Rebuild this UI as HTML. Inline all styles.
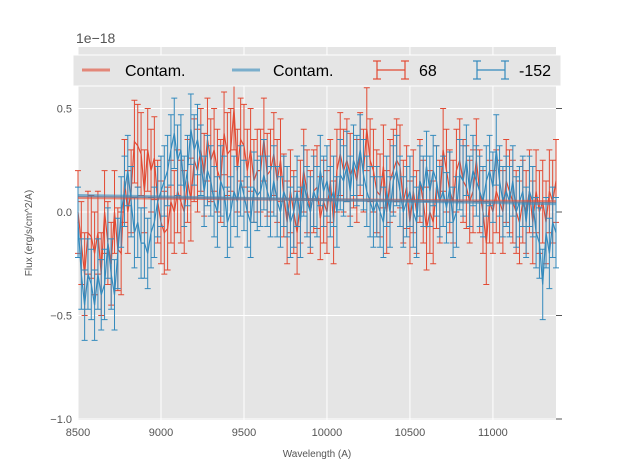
<!DOCTYPE html>
<html><head><meta charset="utf-8"><style>
body{margin:0;background:#fff;}
svg text{font-family:"Liberation Sans",sans-serif;}
</style></head><body>
<svg id="chart" width="617" height="467" xmlns="http://www.w3.org/2000/svg">
<rect x="78" y="47" width="478" height="373" fill="#e5e5e5"/>
<g id="grid"></g><g id="ticks"></g><g id="series"></g>
<text x="76" y="43" font-size="14" fill="#555">1e−18</text>
<text x="317" y="457" font-size="10" fill="#555" text-anchor="middle">Wavelength (A)</text>
<text transform="translate(32,233) rotate(-90)" font-size="10" fill="#555" text-anchor="middle">Flux (erg/s/cm^2/A)</text>
<g>
<rect x="73" y="55" width="488" height="31" fill="#e5e5e5" stroke="#fff"/>
<line x1="82" y1="70" x2="110" y2="70" stroke="#E24A33" stroke-width="3" opacity="0.6"/>
<text x="125" y="76" font-size="16">Contam.</text>
<line x1="232" y1="70" x2="260" y2="70" stroke="#348ABD" stroke-width="3" opacity="0.6"/>
<text x="273" y="76" font-size="16">Contam.</text>
<g stroke="#E24A33" stroke-width="1.2"><line x1="377" y1="70" x2="405" y2="70"/><line x1="377" y1="61" x2="377" y2="79"/><line x1="405" y1="61" x2="405" y2="79"/><line x1="373" y1="61" x2="381" y2="61"/><line x1="373" y1="79" x2="381" y2="79"/><line x1="401" y1="61" x2="409" y2="61"/><line x1="401" y1="79" x2="409" y2="79"/></g>
<text x="419" y="76" font-size="16">68</text>
<g stroke="#348ABD" stroke-width="1.2"><line x1="477" y1="70" x2="505" y2="70"/><line x1="477" y1="61" x2="477" y2="79"/><line x1="505" y1="61" x2="505" y2="79"/><line x1="473" y1="61" x2="481" y2="61"/><line x1="473" y1="79" x2="481" y2="79"/><line x1="501" y1="61" x2="509" y2="61"/><line x1="501" y1="79" x2="509" y2="79"/></g>
<text x="519" y="76" font-size="16">-152</text>
</g>
</svg>
<script>
const xTicks=[8500,9000,9500,10000,10500,11000];
const yTicks=[-1.0,-0.5,0.0,0.5];
const yTickLabels=["−1.0","−0.5","0.0","0.5"];
const wlStart=8500, wlStep=20;
const redFlux=[0.0,-0.15,-0.3,-0.1,-0.12,-0.2,-0.1,-0.3,0.0,-0.15,
-0.25,0.0,-0.18,-0.2,0.15,0.0,0.1,0.34,0.32,0.28,
0.1,0.3,0.2,0.26,0.05,-0.05,-0.1,-0.08,0.05,0.0,
0.1,0.05,0.0,0.15,0.06,0.25,0.2,0.3,0.18,0.35,
0.25,0.3,0.2,0.15,0.38,0.28,0.3,0.5,0.2,0.35,
0.32,0.2,0.3,0.15,0.2,0.2,0.35,0.18,0.2,0.28,
0.15,0.25,0.08,-0.05,0.1,0.0,-0.1,0.05,0.2,0.1,
0.0,0.1,0.12,-0.03,0.05,0.0,0.15,-0.05,0.2,0.28,
0.2,0.25,0.18,0.22,0.15,0.28,0.2,0.4,0.25,0.2,
0.1,0.08,0.22,0.0,0.15,0.2,0.25,0.22,0.05,0.12,
-0.05,0.1,0.0,0.15,0.05,-0.08,0.0,-0.05,0.12,0.05,
0.3,0.2,0.1,0.05,0.2,0.25,0.15,0.12,0.05,0.1,
0.25,0.1,0.0,-0.15,0.05,0.0,0.1,0.05,0.0,0.15,
0.1,0.05,0.0,-0.05,0.05,0.0,0.1,-0.05,0.1,0.0,
0.05,-0.05,0.1,0.05,0.15];
const blueFlux=[-0.05,-0.3,-0.45,-0.3,-0.35,-0.45,-0.3,-0.4,-0.35,-0.15,
-0.3,-0.4,-0.2,0.0,0.1,0.2,0.05,-0.1,-0.05,-0.15,
-0.15,-0.2,-0.1,-0.05,0.05,0.1,0.15,0.2,0.3,0.38,
0.25,0.3,0.1,0.2,0.4,0.3,0.35,0.25,0.1,0.2,
0.15,0.05,0.0,0.15,0.1,-0.05,0.0,0.1,0.05,0.15,
0.08,0.0,-0.05,0.12,0.08,0.1,0.18,0.1,0.05,0.15,
0.05,0.0,0.1,0.05,-0.05,0.0,0.1,-0.05,0.15,0.05,
0.0,0.1,0.05,0.2,0.1,0.15,0.05,0.1,0.0,0.18,
0.15,0.22,0.1,0.25,0.2,0.3,0.18,0.1,0.05,0.0,
0.05,0.0,-0.05,0.1,0.0,0.15,0.2,0.1,0.0,0.05,
0.1,0.0,-0.05,0.15,0.1,0.22,0.1,0.2,0.15,0.05,
0.1,0.02,0.12,-0.05,0.0,0.18,0.15,0.25,0.1,0.2,
0.15,0.1,0.05,0.15,0.2,0.12,0.3,0.15,0.05,0.1,
0.05,0.15,0.0,0.05,0.1,-0.05,0.1,0.05,-0.1,-0.15,
-0.35,-0.1,-0.2,-0.05,-0.1];
const redErr=0.2, blueErr=0.17;
const contamWl=[8500,11380];
const redContam=[0.07,0.05];
const blueContam=[0.08,0.04];

const X=w=>78+(w-8500)*478/2880;
const Y=v=>212-v*207;
const NS='http://www.w3.org/2000/svg';
function mk(parent,tag,attrs){const e=document.createElementNS(NS,tag);for(const k in attrs)e.setAttribute(k,attrs[k]);parent.appendChild(e);return e;}
const grid=document.getElementById('grid'),ticks=document.getElementById('ticks'),ser=document.getElementById('series');
xTicks.forEach(t=>{
 const g=mk(grid,'line',{x1:X(t),x2:X(t),y1:47,y2:420,stroke:'#fff','stroke-width':1});
 
 
 const tx=mk(ticks,'text',{x:X(t),y:436,'font-size':11,fill:'#555','text-anchor':'middle'});
 tx.textContent=t;
 
 
});
yTicks.forEach((t,i)=>{
 const g=mk(grid,'line',{x1:78,x2:556,y1:Y(t),y2:Y(t),stroke:'#fff','stroke-width':1});
 
 
 mk(ticks,'line',{x1:556,x2:562,y1:Y(t),y2:Y(t),stroke:'#555'});
 const tx=mk(ticks,'text',{x:72,y:Y(t)+4,'font-size':11,fill:'#555','text-anchor':'end'});
 tx.textContent=yTickLabels[i];
 
 
});
function drawSeries(vals,err,color,name){
 const g=mk(ser,'g',{stroke:color,'stroke-width':1.2,fill:'none'});
 
 
 let d='';
 vals.forEach((v,i)=>{
  const x=X(wlStart+i*wlStep);
  d+=(i?'L':'M')+x.toFixed(1)+' '+Y(v).toFixed(1);
  const top=Y(v+err),bot=Y(v-err);
  const b=mk(g,'path',{d:`M${x} ${top}V${bot}M${x-3} ${top}h6M${x-3} ${bot}h6`,'stroke-width':1});
  
  
 });
 const l=mk(g,'path',{d:d});
 
 
}
drawSeries(redFlux,redErr,'#E24A33','series-68');
drawSeries(blueFlux,blueErr,'#348ABD','series-minus152');
[[redContam,'#E24A33','contam-68'],[blueContam,'#348ABD','contam-minus152']].forEach(([c,col,n])=>{
 const l=mk(ser,'line',{x1:X(contamWl[0]),x2:X(contamWl[1]),y1:Y(c[0]),y2:Y(c[1]),stroke:col,'stroke-width':3,opacity:0.6});
 
 
});
</script>
</body></html>
